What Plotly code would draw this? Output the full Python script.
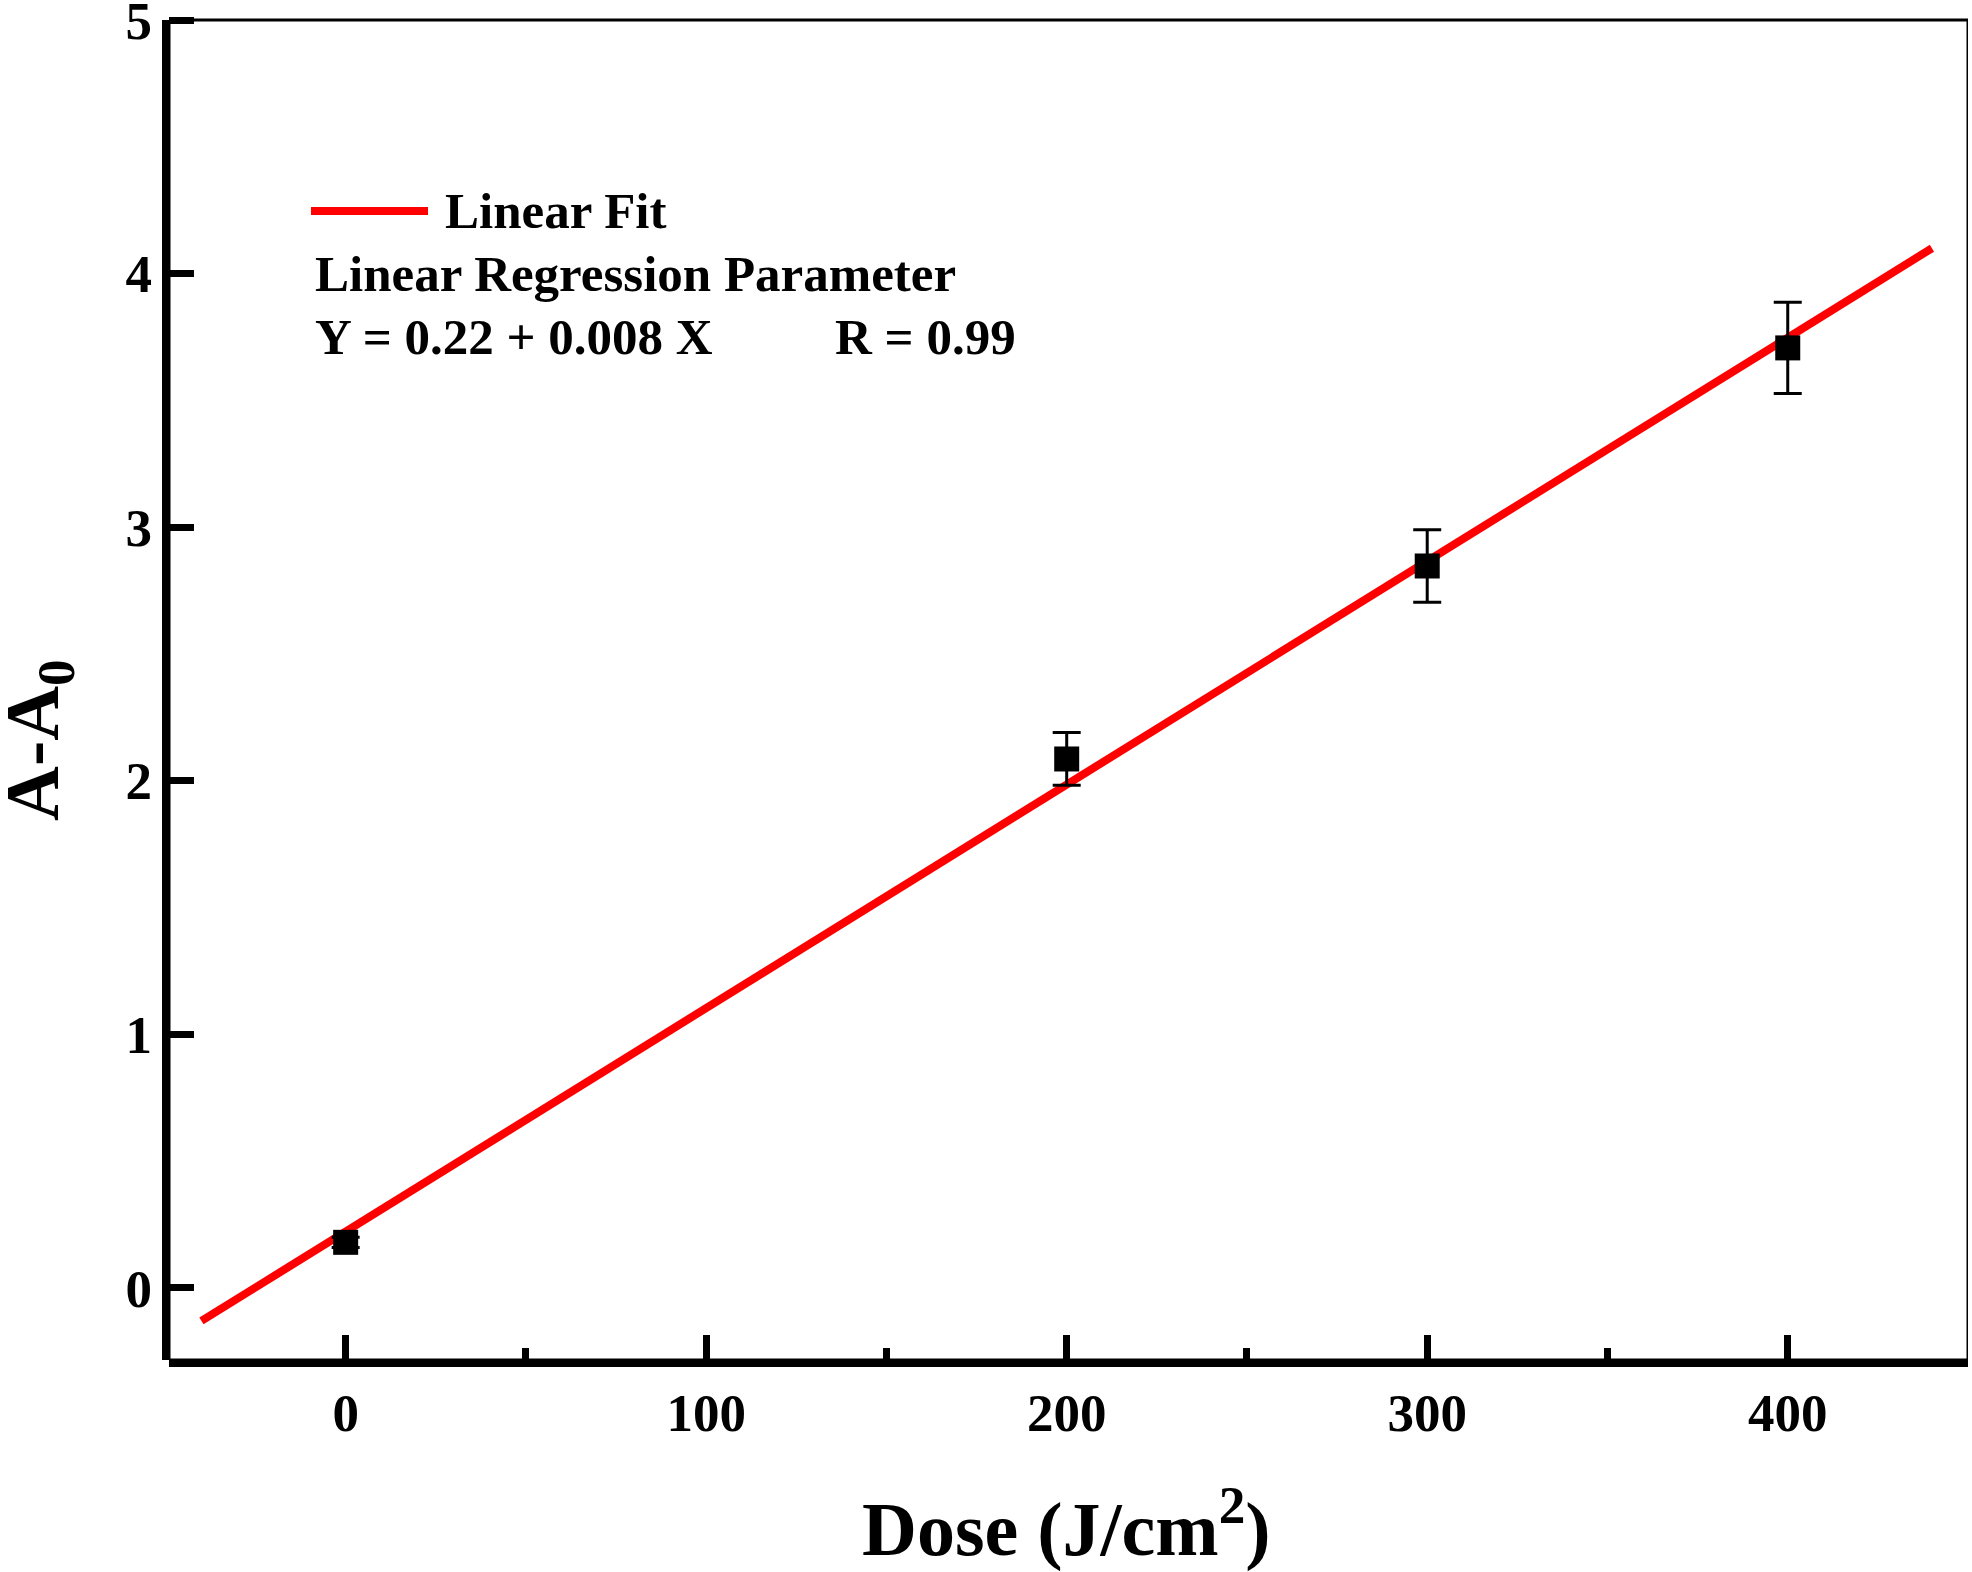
import plotly.graph_objects as go

# Data
dose = [0, 200, 300, 400]
response = [0.18, 2.086, 2.847, 3.707]
response_err = [0.02, 0.104, 0.143, 0.18]

# Linear fit line end points (as drawn)
fit_x = [-40, 440]
fit_y = [-0.13, 4.10]

x_tick_vals = [0, 100, 200, 300, 400]
x_tick_text = ["0", "100", "200", "300", "400"]
y_tick_vals = [0, 1, 2, 3, 4, 5]
y_tick_text = ["0", "1", "2", "3", "4", "5"]

FONT = "Liberation Serif, Times New Roman, serif"
W, H = 1972, 1572
ML, MR, MT, MB = 169, 4, 6, 212
PW = W - ML - MR
PH = H - MT - MB

Y_BOTTOM = -0.284
Y_TOP = 5 + 14 / 253.6  # plot area extends slightly above y = 5


def px(xp):
    return (xp - ML) / PW


def py(yp):
    return (H - MB - yp) / PH


fig = go.Figure()

fig.add_trace(go.Scatter(
    x=fit_x, y=fit_y, mode="lines",
    line=dict(color="#ff0000", width=8),
    name="Linear Fit", showlegend=False,
))

fig.add_trace(go.Scatter(
    x=dose, y=response, mode="markers",
    marker=dict(symbol="square", size=25, color="black", line=dict(width=0)),
    error_y=dict(type="data", array=response_err, visible=True,
                 color="black", thickness=3, width=14),
    showlegend=False,
))

fig.update_layout(
    width=W, height=H,
    margin=dict(l=ML, r=MR, t=MT, b=MB, autoexpand=False),
    paper_bgcolor="white", plot_bgcolor="white",
    font=dict(family=FONT, color="black"),
    xaxis=dict(
        range=[-49, 450], showgrid=False, zeroline=False, automargin=False,
        showline=True, linewidth=7, linecolor="black",
        ticks="inside", ticklen=25, tickwidth=7, tickcolor="black",
        tickvals=x_tick_vals, ticktext=x_tick_text,
        tickfont=dict(family=FONT, size=53, weight="bold", color="black"),
        ticklabelstandoff=0,
        minor=dict(ticks="inside", ticklen=12, tickwidth=7, tickcolor="black",
                   dtick=50, tick0=0),
    ),
    yaxis=dict(
        range=[Y_BOTTOM, Y_TOP], showgrid=False, zeroline=False, automargin=False,
        showline=False,
        ticks="inside", ticklen=25, tickwidth=7, tickcolor="black",
        tickvals=y_tick_vals, ticktext=y_tick_text,
        tickfont=dict(family=FONT, size=53, weight="bold", color="black"),
        ticklabelstandoff=16,
        ticklabeloverflow="allow",
    ),
    shapes=[
        # thin frame: top edge at y = 5, right edge at x = 450
        dict(type="rect", xref="x", yref="y", x0=-49, x1=450, y0=Y_BOTTOM, y1=5,
             line=dict(color="black", width=3), layer="below"),
        # thick left axis line from bottom up to y = 5
        dict(type="line", xref="paper", yref="y", x0=px(165.5), x1=px(165.5),
             y0=Y_BOTTOM - 0.014, y1=5,
             line=dict(color="black", width=7), layer="above"),
        # legend sample line
        dict(type="line", xref="paper", yref="paper",
             x0=px(311), x1=px(428), y0=py(211), y1=py(211),
             line=dict(color="#ff0000", width=8)),
    ],
    annotations=[
        dict(text="Linear Fit", xref="paper", yref="paper", x=px(443), y=py(211),
             xanchor="left", yanchor="middle", showarrow=False,
             font=dict(family=FONT, size=51, weight="bold", color="black")),
        dict(text="Linear Regression Parameter", xref="paper", yref="paper",
             x=px(313), y=py(274), xanchor="left", yanchor="middle", showarrow=False,
             font=dict(family=FONT, size=51, weight="bold", color="black")),
        dict(text="Y = 0.22 + 0.008 X", xref="paper", yref="paper",
             x=px(313), y=py(337), xanchor="left", yanchor="middle", showarrow=False,
             font=dict(family=FONT, size=51, weight="bold", color="black")),
        dict(text="R = 0.99", xref="paper", yref="paper",
             x=px(833), y=py(337), xanchor="left", yanchor="middle", showarrow=False,
             font=dict(family=FONT, size=51, weight="bold", color="black")),
        dict(text="Dose (J/cm<sup>2</sup>)", xref="paper", yref="paper",
             x=px(1066), y=py(1524), xanchor="center", yanchor="middle", showarrow=False,
             font=dict(family=FONT, size=76, weight="bold", color="black")),
        dict(text="A-A<sub>0</sub>", xref="paper", yref="paper",
             x=px(38), y=py(740), xanchor="center", yanchor="middle", showarrow=False,
             textangle=-90,
             font=dict(family=FONT, size=76, weight="bold", color="black")),
    ],
)

fig.write_html("out.html")
